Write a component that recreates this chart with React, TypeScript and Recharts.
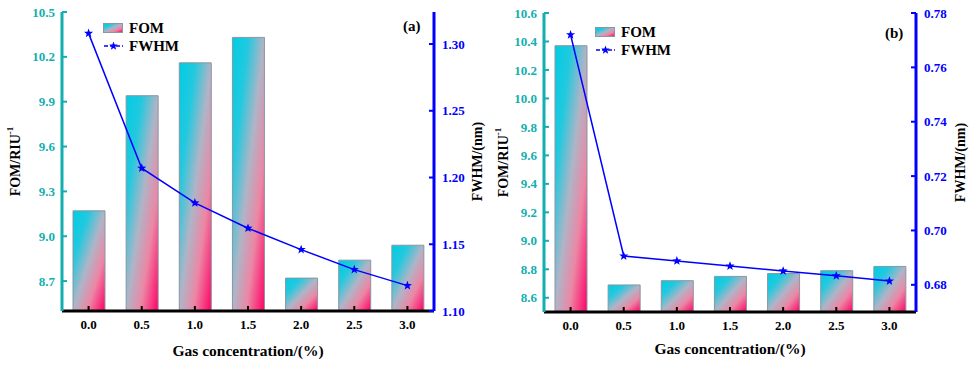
import { ComposedChart, Bar, Line, XAxis, YAxis } from 'recharts';

const concentrations = ['0.0', '0.5', '1.0', '1.5', '2.0', '2.5', '3.0'];

// panel (a)
const fomA = [9.17, 9.94, 10.16, 10.33, 8.72, 8.84, 8.94];
const fwhmA = [1.308, 1.207, 1.181, 1.162, 1.146, 1.131, 1.119];
const fomTicksA = [8.7, 9.0, 9.3, 9.6, 9.9, 10.2, 10.5];
const fwhmTicksA = [1.1, 1.15, 1.2, 1.25, 1.3];

// panel (b)
const fomB = [10.37, 8.69, 8.72, 8.75, 8.77, 8.79, 8.82];
const fwhmB = [0.772, 0.6906, 0.6888, 0.6869, 0.6851, 0.6833, 0.6814];
const fomTicksB = [8.6, 8.8, 9.0, 9.2, 9.4, 9.6, 9.8, 10.0, 10.2, 10.4, 10.6];
const fwhmTicksB = [0.68, 0.7, 0.72, 0.74, 0.76, 0.78];

const FONT = 'Liberation Serif, serif';
const TEAL = '#12aeb0';
const BLUE = '#0000ff';

function starPoints(cx: number, cy: number, R: number, r: number) {
  const pts: string[] = [];
  for (let i = 0; i < 10; i++) {
    const rad = i % 2 === 0 ? R : r;
    const a = -Math.PI / 2 + (i * Math.PI) / 5;
    pts.push(`${cx + rad * Math.cos(a)},${cy + rad * Math.sin(a)}`);
  }
  return pts.join(' ');
}

function StarDot(props: any) {
  const { cx, cy, index } = props;
  if (cx == null || cy == null) return <g key={index} />;
  return <polygon key={index} points={starPoints(cx, cy, 4.8, 2)} fill={BLUE} />;
}

function GradDefs({ id }: { id: string }) {
  return (
    <defs>
      <linearGradient id={id} x1="0" y1="0" x2="1" y2="1">
        <stop offset="0" stopColor="#00cce2" />
        <stop offset="0.25" stopColor="#22c9df" />
        <stop offset="0.5" stopColor="#b0b4c6" />
        <stop offset="0.72" stopColor="#ec86a4" />
        <stop offset="1" stopColor="#ff0066" />
      </linearGradient>
    </defs>
  );
}

function yTitle(text: string, sup: string | null, dx: number) {
  return (props: any) => {
    const vb = props.viewBox;
    const x = vb.x + dx;
    const y = vb.y + vb.height / 2;
    return (
      <text
        x={x}
        y={y}
        transform={`rotate(-90 ${x} ${y})`}
        textAnchor="middle"
        dominantBaseline="central"
        fontFamily={FONT}
        fontWeight="bold"
        fontSize={14}
        fill="#000"
      >
        {text}
        {sup && (
          <tspan dy={-5} fontSize={9}>
            {sup}
          </tspan>
        )}
      </text>
    );
  };
}

function xTitle(dy: number) {
  return (props: any) => {
    const vb = props.viewBox;
    return (
      <text
        x={vb.x + vb.width / 2}
        y={vb.y + dy}
        textAnchor="middle"
        dominantBaseline="central"
        fontFamily={FONT}
        fontWeight="bold"
        fontSize={15.5}
        fill="#000"
      >
        Gas concentration/(%)
      </text>
    );
  };
}

interface PanelProps {
  gradId: string;
  fom: number[];
  fwhm: number[];
  fomDomain: [number, number];
  fwhmDomain: [number, number];
  fomTicks: number[];
  fwhmTicks: number[];
  width: number;
  top: number;
  bottom: number;
  leftW: number;
  rightW: number;
  leftTitleDx: number;
  rightTitleDx: number;
  xTitleDy: number;
}

function Panel(p: PanelProps) {
  const data = concentrations.map((c, i) => ({ c, fom: p.fom[i], fwhm: p.fwhm[i] }));
  const tickFont = { fontFamily: FONT, fontWeight: 'bold', fontSize: 13 };
  return (
    <ComposedChart
      width={p.width}
      height={365}
      data={data}
      margin={{ top: p.top, right: 0, bottom: p.bottom, left: 0 }}
    >
      <GradDefs id={p.gradId} />
      <Bar
        dataKey="fom"
        yAxisId="left"
        fill={`url(#${p.gradId})`}
        stroke="#8a96a2"
        strokeWidth={1}
        barSize={32}
        isAnimationActive={false}
      />
      <Line
        dataKey="fwhm"
        yAxisId="right"
        stroke={BLUE}
        strokeWidth={1.5}
        dot={StarDot}
        activeDot={false}
        isAnimationActive={false}
      />
      <XAxis
        xAxisId="top"
        orientation="top"
        dataKey="c"
        height={0}
        tick={false}
        tickLine={false}
        axisLine={{ stroke: '#000', strokeWidth: 3 }}
      />
      <XAxis
        dataKey="c"
        height={30}
        tickSize={-5}
        tickMargin={14}
        tick={{ ...tickFont, fill: '#000' }}
        tickLine={{ stroke: '#000', strokeWidth: 2 }}
        axisLine={{ stroke: '#000', strokeWidth: 3 }}
        label={{ content: xTitle(p.xTitleDy) } as any}
      />
      <YAxis
        yAxisId="left"
        width={p.leftW}
        domain={p.fomDomain}
        ticks={p.fomTicks}
        allowDataOverflow
        tickFormatter={(v: number) => v.toFixed(1)}
        tickSize={-5}
        tickMargin={12}
        tick={{ ...tickFont, fill: TEAL }}
        tickLine={{ stroke: TEAL, strokeWidth: 2 }}
        axisLine={{ stroke: TEAL, strokeWidth: 3 }}
        label={{ content: yTitle('FOM/RIU', '-1', p.leftTitleDx) } as any}
      />
      <YAxis
        yAxisId="right"
        orientation="right"
        width={p.rightW}
        domain={p.fwhmDomain}
        ticks={p.fwhmTicks}
        allowDataOverflow
        tickFormatter={(v: number) => v.toFixed(2)}
        tickSize={-5}
        tickMargin={13}
        tick={{ ...tickFont, fill: BLUE }}
        tickLine={{ stroke: BLUE, strokeWidth: 2 }}
        axisLine={{ stroke: BLUE, strokeWidth: 3 }}
        label={{ content: yTitle('FWHM/(nm)', null, p.rightTitleDx) } as any}
      />
    </ComposedChart>
  );
}

function LegendBox({ left, top, gradId }: { left: number; top: number; gradId: string }) {
  return (
    <svg
      width={100}
      height={40}
      style={{ position: 'absolute', left, top, overflow: 'visible' }}
    >
      <GradDefs id={gradId} />
      <rect x={0.5} y={0.5} width={19} height={9} fill={`url(#${gradId})`} stroke="#8a96a2" />
      <text x={26} y={5} dominantBaseline="central" fontFamily={FONT} fontWeight="bold" fontSize={15}>
        FOM
      </text>
      <line x1={1} y1={23} x2={20} y2={23} stroke={BLUE} strokeWidth={1.5} strokeDasharray="4 2" />
      <polygon points={starPoints(10.5, 23, 4.5, 1.9)} fill={BLUE} />
      <text x={26} y={23} dominantBaseline="central" fontFamily={FONT} fontWeight="bold" fontSize={15}>
        FWHM
      </text>
    </svg>
  );
}

export default function App() {
  const tag = {
    position: 'absolute' as const,
    fontFamily: FONT,
    fontWeight: 'bold' as const,
    fontSize: 15,
    lineHeight: '15px',
  };
  return (
    <div
      style={{
        position: 'absolute',
        left: 0,
        top: 0,
        width: 969,
        height: 365,
        background: '#fff',
        overflow: 'hidden',
      }}
    >
      <div style={{ position: 'absolute', left: 0, top: 0 }}>
        <Panel
          gradId="gradA"
          fom={fomA}
          fwhm={fwhmA}
          fomDomain={[8.5, 10.5]}
          fwhmDomain={[1.1, 1.324]}
          fomTicks={fomTicksA}
          fwhmTicks={fwhmTicksA}
          width={490}
          top={12}
          bottom={24}
          leftW={62}
          rightW={56}
          leftTitleDx={15}
          rightTitleDx={43}
          xTitleDy={39}
        />
      </div>
      <div style={{ position: 'absolute', left: 490, top: 0 }}>
        <Panel
          gradId="gradB"
          fom={fomB}
          fwhm={fwhmB}
          fomDomain={[8.5, 10.6]}
          fwhmDomain={[0.67, 0.78]}
          fomTicks={fomTicksB}
          fwhmTicks={fwhmTicksB}
          width={479}
          top={13}
          bottom={23}
          leftW={54}
          rightW={53}
          leftTitleDx={13}
          rightTitleDx={44}
          xTitleDy={36}
        />
      </div>
      <LegendBox left={103} top={23} gradId="gradLegA" />
      <LegendBox left={595} top={27} gradId="gradLegB" />
      <div style={{ ...tag, left: 403, top: 19 }}>(a)</div>
      <div style={{ ...tag, left: 885, top: 26 }}>(b)</div>
    </div>
  );
}
